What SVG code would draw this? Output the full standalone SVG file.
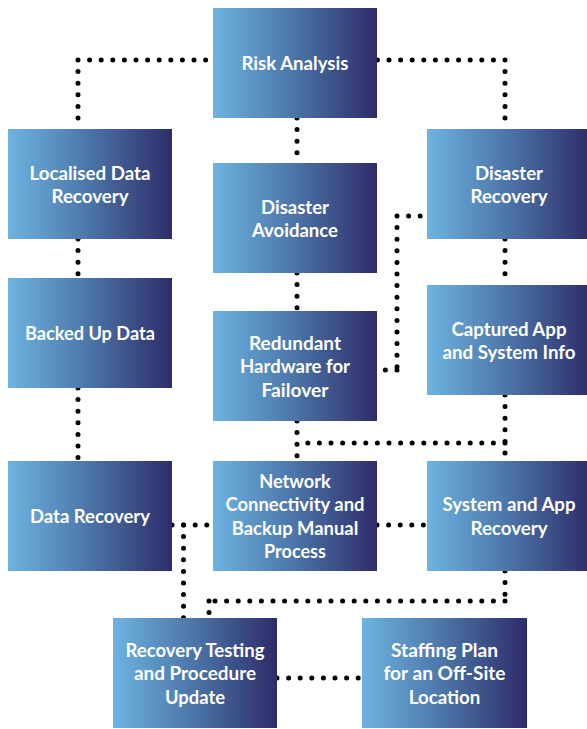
<svg xmlns="http://www.w3.org/2000/svg" width="587" height="729" viewBox="0 0 587 729">
<defs>
<linearGradient id="g" x1="0" y1="0" x2="1" y2="0">
<stop offset="0" stop-color="#6db3e1"/>
<stop offset="0.5" stop-color="#4b74a7"/>
<stop offset="1" stop-color="#2e2c69"/>
</linearGradient>
</defs>
<style>
.box{fill:url(#g)}
.lbl{font-family:Lato,"Open Sans","Liberation Sans",sans-serif;font-weight:700;font-size:19.5px;fill:#fff;text-anchor:middle}
.con{fill:none;stroke:#000;stroke-width:5;stroke-linecap:round;stroke-dasharray:0 11.6}
</style>
<rect width="587" height="729" fill="#fff"/>
<g id="connectors">
<path class="con" d="M78,60 H213 M78,60 V129"/>
<path class="con" d="M505,60 H377 M505,60 V129"/>
<path class="con" d="M297,118 V163"/>
<path class="con" d="M78,239 V278"/>
<path class="con" d="M78,388 V461"/>
<path class="con" d="M297,273 V311"/>
<path class="con" d="M397,216 H427 M397,216 V370 M397,370 H377"/>
<path class="con" d="M505,239 V285"/>
<path class="con" d="M505,395 V461"/>
<path class="con" d="M297,421 V461"/>
<path class="con" d="M505,443 H297"/>
<path class="con" d="M172,525 H213"/>
<path class="con" d="M183.5,525 V618"/>
<path class="con" d="M377,525 H427"/>
<path class="con" d="M505,571 V601 M505,601 H209 M209,601 V618"/>
<path class="con" d="M277,678 H362"/>
</g>
<g id="risk-analysis">
<rect class="box" x="213" y="8" width="164" height="110"/>
<text class="lbl" x="295" y="70" textLength="107" lengthAdjust="spacingAndGlyphs">Risk Analysis</text>
</g>
<g id="localised-data-recovery">
<rect class="box" x="8" y="129" width="164" height="110"/>
<text class="lbl" x="90" y="179.5" textLength="121" lengthAdjust="spacingAndGlyphs">Localised Data</text>
<text class="lbl" x="90" y="203" textLength="77" lengthAdjust="spacingAndGlyphs">Recovery</text>
</g>
<g id="disaster-recovery">
<rect class="box" x="427" y="129" width="164" height="110"/>
<text class="lbl" x="509" y="179.5" textLength="68" lengthAdjust="spacingAndGlyphs">Disaster</text>
<text class="lbl" x="509" y="203" textLength="77" lengthAdjust="spacingAndGlyphs">Recovery</text>
</g>
<g id="disaster-avoidance">
<rect class="box" x="213" y="163" width="164" height="110"/>
<text class="lbl" x="295" y="213.5" textLength="68" lengthAdjust="spacingAndGlyphs">Disaster</text>
<text class="lbl" x="295" y="237" textLength="86" lengthAdjust="spacingAndGlyphs">Avoidance</text>
</g>
<g id="backed-up-data">
<rect class="box" x="8" y="278" width="164" height="110"/>
<text class="lbl" x="90" y="340" textLength="130" lengthAdjust="spacingAndGlyphs">Backed Up Data</text>
</g>
<g id="captured-app">
<rect class="box" x="427" y="285" width="164" height="110"/>
<text class="lbl" x="509" y="335.5" textLength="115" lengthAdjust="spacingAndGlyphs">Captured App</text>
<text class="lbl" x="509" y="359" textLength="133" lengthAdjust="spacingAndGlyphs">and System Info</text>
</g>
<g id="redundant-hardware">
<rect class="box" x="213" y="311" width="164" height="110"/>
<text class="lbl" x="295" y="349.5" textLength="92" lengthAdjust="spacingAndGlyphs">Redundant</text>
<text class="lbl" x="295" y="373" textLength="110" lengthAdjust="spacingAndGlyphs">Hardware for</text>
<text class="lbl" x="295" y="396.5" textLength="67" lengthAdjust="spacingAndGlyphs">Failover</text>
</g>
<g id="data-recovery">
<rect class="box" x="8" y="461" width="164" height="110"/>
<text class="lbl" x="90" y="523" textLength="120" lengthAdjust="spacingAndGlyphs">Data Recovery</text>
</g>
<g id="network-connectivity">
<rect class="box" x="213" y="461" width="164" height="110"/>
<text class="lbl" x="295" y="487.75" textLength="71.5" lengthAdjust="spacingAndGlyphs">Network</text>
<text class="lbl" x="295" y="511.25" textLength="139" lengthAdjust="spacingAndGlyphs">Connectivity and</text>
<text class="lbl" x="295" y="534.75" textLength="126.5" lengthAdjust="spacingAndGlyphs">Backup Manual</text>
<text class="lbl" x="295" y="558.25" textLength="62" lengthAdjust="spacingAndGlyphs">Process</text>
</g>
<g id="system-app-recovery">
<rect class="box" x="427" y="461" width="164" height="110"/>
<text class="lbl" x="509" y="511.25" textLength="133" lengthAdjust="spacingAndGlyphs">System and App</text>
<text class="lbl" x="509" y="534.75" textLength="77" lengthAdjust="spacingAndGlyphs">Recovery</text>
</g>
<g id="recovery-testing">
<rect class="box" x="113" y="618" width="164" height="110"/>
<text class="lbl" x="195" y="656.5" textLength="139" lengthAdjust="spacingAndGlyphs">Recovery Testing</text>
<text class="lbl" x="195" y="680" textLength="122" lengthAdjust="spacingAndGlyphs">and Procedure</text>
<text class="lbl" x="195" y="703.5" textLength="60" lengthAdjust="spacingAndGlyphs">Update</text>
</g>
<g id="staffing-plan">
<rect class="box" x="362" y="618" width="165" height="110"/>
<text class="lbl" x="444.5" y="656.5" textLength="107" lengthAdjust="spacingAndGlyphs">Staffing Plan</text>
<text class="lbl" x="444.5" y="680" textLength="122" lengthAdjust="spacingAndGlyphs">for an Off-Site</text>
<text class="lbl" x="444.5" y="703.5" textLength="71.5" lengthAdjust="spacingAndGlyphs">Location</text>
</g>
</svg>
